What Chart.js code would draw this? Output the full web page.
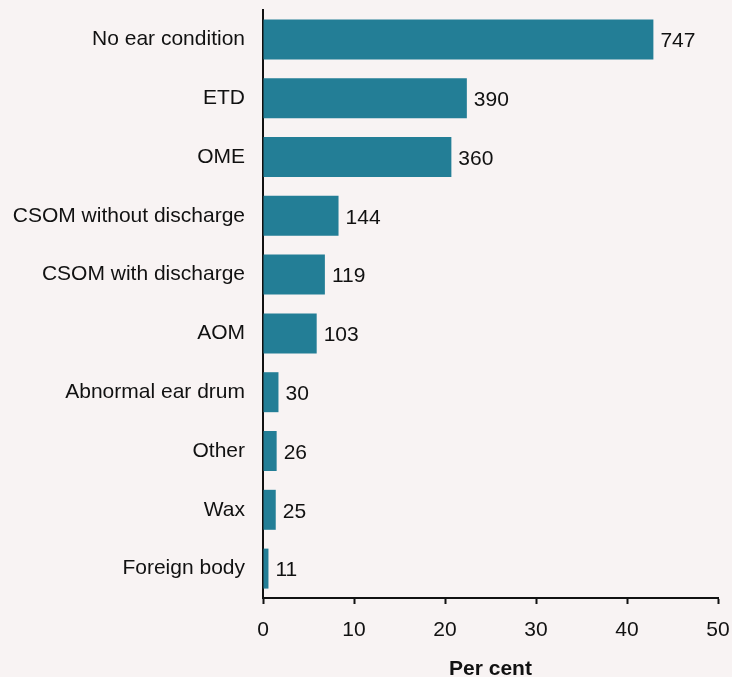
<!DOCTYPE html>
<html>
<head>
<meta charset="utf-8">
<script src="https://cdn.jsdelivr.net/npm/chart.js@4"></script>
<style>
  body { margin: 0; background: #f8f3f3; }
  #wrap { width: 732px; height: 677px; }
</style>
</head>
<body>
<div id="wrap"><canvas id="grafico"></canvas></div>
<script>
var categorias = ["No ear condition", "ETD", "OME", "CSOM without discharge", "CSOM with discharge",
  "AOM", "Abnormal ear drum", "Other", "Wax", "Foreign body"];
var percentuais = [42.9, 22.4, 20.7, 8.3, 6.8, 5.9, 1.7, 1.5, 1.4, 0.6];
var contagens = [747, 390, 360, 144, 119, 103, 30, 26, 25, 11];
var ticksX = [0, 10, 20, 30, 40, 50];

var corBarra = "#237e96";
var fonte = "'Liberation Sans', Arial, sans-serif";

// escreve a contagem ao lado de cada barra
const rotulos = {
  id: "rotulos",
  afterDatasetsDraw(chart) {
    const ctx = chart.ctx;
    const meta = chart.getDatasetMeta(0);
    ctx.save();
    ctx.fillStyle = "#111";
    ctx.font = "21px " + fonte;
    ctx.textBaseline = "middle";
    ctx.textAlign = "left";
    meta.data.forEach((bar, i) => {
      ctx.fillText(contagens[i], bar.x + 7, bar.y + 2);
    });
    ctx.restore();
  },
};

const fundo = {
  id: "fundo",
  beforeDraw(chart) {
    const ctx = chart.ctx;
    ctx.save();
    ctx.fillStyle = "#f8f3f3";
    ctx.fillRect(0, 0, chart.width, chart.height);
    ctx.restore();
  },
};

const data = {
  labels: categorias,
  datasets: [
    {
      data: percentuais,
      backgroundColor: corBarra,
      categoryPercentage: 1,
      barPercentage: 0.68,
    },
  ],
};

const config = {
  type: "bar",
  data: data,
  options: {
    indexAxis: "y",
    responsive: true,
    maintainAspectRatio: false,
    animation: false,
    layout: { padding: { top: 10, right: 14, left: 0, bottom: 0 } },
    plugins: {
      legend: { display: false },
      tooltip: { enabled: false },
    },
    scales: {
      x: {
        min: 0,
        max: 50,
        afterBuildTicks: (scale) => {
          scale.ticks = ticksX.map((v) => ({ value: v }));
        },
        grid: { drawOnChartArea: false, drawTicks: true, tickLength: 6, tickWidth: 2, color: "#111" },
        border: { display: true, color: "#111", width: 2 },
        ticks: { color: "#111", font: { size: 21, family: fonte }, padding: 14, maxRotation: 0 },
        title: {
          display: true,
          text: "Per cent",
          color: "#111",
          font: { size: 21, weight: "bold", family: fonte },
          padding: { top: 10, bottom: -5 },
        },
        afterFit: (scale) => {
          scale.height = 79;
          scale.paddingLeft = 0;
          scale.paddingRight = 0;
        },
      },
      y: {
        grid: { display: false },
        border: { display: true, color: "#111", width: 2 },
        ticks: { color: "#111", font: { size: 21, family: fonte }, padding: 10 },
        afterFit: (scale) => {
          scale.width = 263;
          scale.paddingTop = 0;
          scale.paddingBottom = 0;
        },
      },
    },
  },
  plugins: [fundo, rotulos],
};

new Chart(document.getElementById("grafico"), config);
</script>
</body>
</html>
